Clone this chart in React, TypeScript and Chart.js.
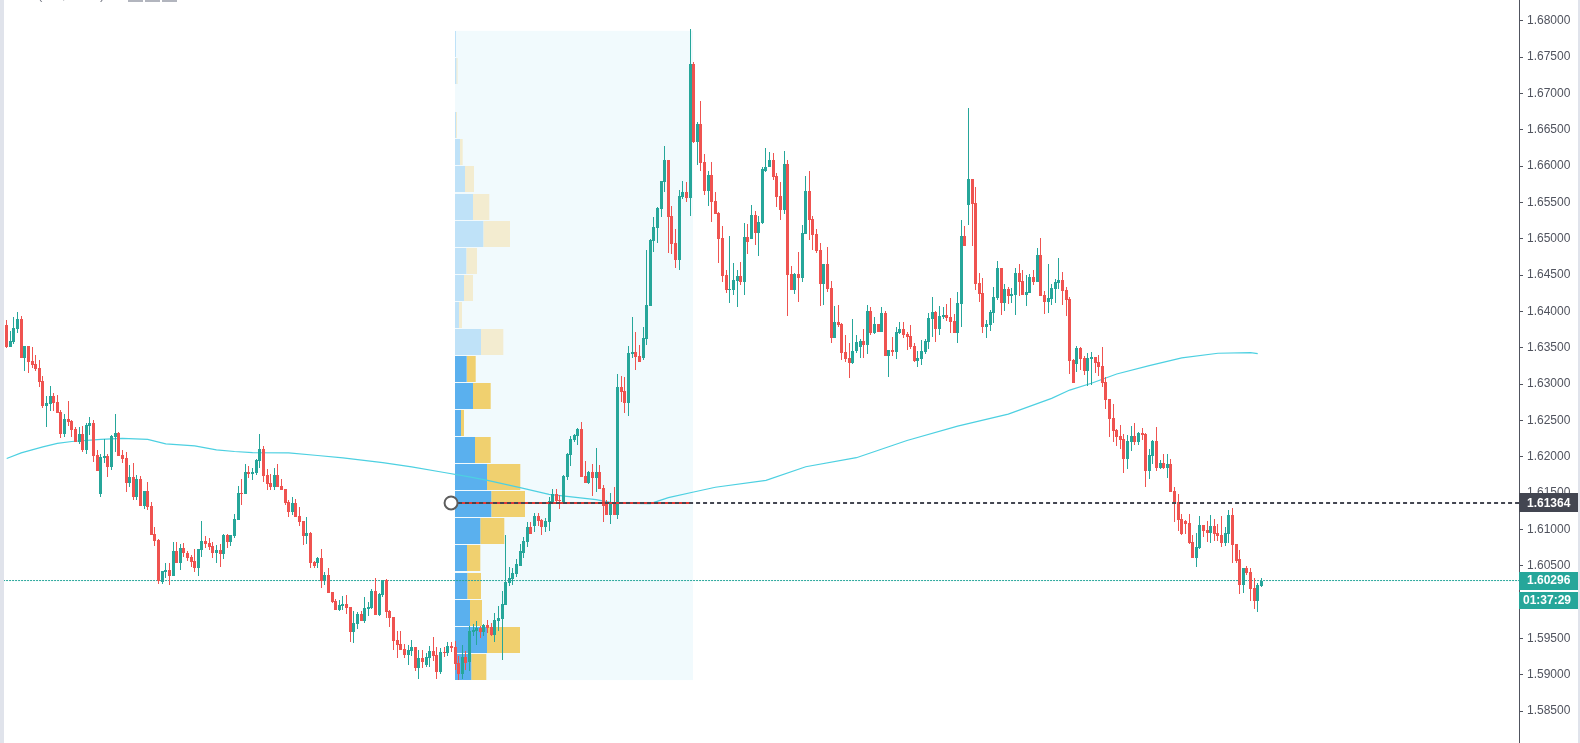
import { useEffect, useRef } from 'react';
import { Chart, registerables } from 'chart.js';

Chart.register(...registerables);

const highs = [1.63884,1.63732,1.63921,1.6399,1.63939,1.63525,1.63525,1.63511,1.63401,1.63332,1.63111,1.62835,1.62973,1.62877,1.62849,1.62642,1.62587,1.62766,1.62504,1.62407,1.62407,1.62421,1.62463,1.62545,1.62504,1.6209,1.62035,1.62242,1.62035,1.62297,1.62587,1.62338,1.6209,1.62062,1.61883,1.61911,1.61745,1.61731,1.61524,1.61648,1.61372,1.61027,1.60862,1.60434,1.60544,1.60544,1.6082,1.6082,1.60793,1.60807,1.60696,1.60641,1.60724,1.60724,1.6111,1.60903,1.60876,1.6082,1.60779,1.60793,1.60931,1.60931,1.60917,1.61207,1.61593,1.6169,1.61897,1.61869,1.61842,1.61966,
1.62311,1.62145,1.61828,1.61759,1.61842,1.61897,1.6169,1.61552,1.614,1.61441,1.61414,1.61303,1.6111,1.61165,1.60958,1.60572,1.60627,1.60724,1.6042,1.60475,1.60144,1.60048,1.60034,1.60089,1.60103,1.59937,1.59882,1.59868,1.59882,1.60075,1.60006,1.60186,1.60337,1.6013,1.6031,1.60324,1.59896,1.59799,1.59606,1.59606,1.59427,1.59413,1.59482,1.59385,1.59344,1.59344,1.59302,1.59399,1.59523,1.59385,1.59371,1.59385,1.59454,1.59454,1.59468,1.59261,1.59413,1.5933,
1.59675,1.59698,1.59744,1.59675,1.59703,1.59758,1.59716,1.59854,1.59951,1.60158,1.60917,1.60489,1.60462,1.60586,1.60793,1.60889,1.61096,1.61096,1.61221,1.61221,1.61138,1.61152,1.61441,1.61552,1.61552,1.61469,1.61745,1.62049,1.62283,1.62311,1.62394,1.62476,1.61938,1.618,1.61897,1.62118,1.61883,1.61607,1.614,1.61497,1.61579,1.63139,1.63111,1.63097,
1.63525,1.63925,1.63718,1.63539,1.63787,1.6485,1.65002,1.65305,1.65443,1.65802,1.66271,1.66078,1.65457,1.6514,1.65678,
1.65802,1.65788,1.67886,1.67431,1.66603,1.66892,1.66161,1.6594,1.66051,1.6565,1.65374,1.65181,1.64574,1.65043,1.64671,1.64574,1.64684,1.65223,1.65209,1.65471,1.65388,1.65319,1.65995,1.66244,1.66189,1.66175,1.65899,1.65788,1.66202,1.66078,1.64629,1.64533,1.64822,1.65195,1.65871,1.6594,1.65319,1.6514,1.64947,1.64657,1.64891,1.64422,1.64077,1.64091,1.63843,1.63677,1.63567,1.63898,1.63677,1.63622,1.6376,1.64091,1.64063,1.63925,1.63829,1.64063,1.64008,1.6347,1.63649,1.63787,1.63856,1.63856,1.63718,1.63815,1.63567,1.63456,1.63608,1.63622,1.63981,
1.64201,1.64008,1.64077,1.64063,1.64105,1.64188,1.63967,1.6427,1.65264,1.65181,1.66796,1.6583,1.65719,1.64533,1.64464,1.63884,1.64022,1.64339,1.64698,1.64602,1.64381,1.64339,1.64326,1.64602,1.64657,1.64574,1.64505,1.64519,1.64574,1.64878,1.65016,1.64284,1.64657,1.64381,1.6445,1.6474,1.64546,1.64339,1.64201,
1.63346,1.63525,1.63511,1.63387,1.63429,1.63442,1.63373,1.63401,1.63511,1.63097,1.62794,1.62725,1.6238,1.62435,1.62311,1.62297,1.62421,1.62463,1.62338,1.62394,1.62325,1.62104,1.62228,1.62407,1.61952,1.62035,1.62035,1.61966,1.61579,1.61483,1.61207,1.61124,1.61207,1.60917,1.60945,1.61179,1.61055,1.6111,1.61193,1.61138,1.61069,1.61179,1.61027,1.61262,1.6129,1.60793,1.6071,1.60475,1.60503,1.60475,1.60337,1.60268,1.60337];

const lows = [1.63498,1.63511,1.63553,1.637,1.6336,1.6318,1.63153,1.63222,1.6318,1.62959,1.6267,1.62407,1.62628,1.62628,1.62601,1.62256,1.62269,1.62421,1.62269,1.622,1.62173,1.62062,1.62035,1.62297,1.61924,1.618,1.61441,1.61911,1.61717,1.61814,1.62062,1.62007,1.61911,1.6151,1.61579,1.614,1.614,1.61317,1.61276,1.61262,1.60917,1.60765,1.60255,1.60255,1.60337,1.60241,1.60365,1.60544,1.60448,1.60627,1.60572,1.60489,1.6042,1.60365,1.60627,1.60738,1.6071,1.60613,1.60544,1.60489,1.60586,1.60738,1.60765,1.60876,1.61124,1.61331,1.61483,1.61704,1.61676,1.61745,
1.61842,1.61648,1.61538,1.61538,1.61538,1.61579,1.61538,1.61331,1.61165,1.61193,1.61165,1.61041,1.60779,1.60793,1.60475,1.60475,1.60475,1.60199,1.60241,1.6013,1.59992,1.59896,1.59882,1.59896,1.59841,1.59454,1.5944,1.59634,1.59744,1.59716,1.59813,1.5991,1.59827,1.59813,1.60075,1.59785,1.59661,1.59344,1.59233,1.59344,1.59233,1.59137,1.59261,1.59054,1.58944,1.59095,1.59109,1.59109,1.59192,1.58944,1.59013,1.59247,1.59261,1.59316,1.59068,1.5893,1.58944,1.59068,
1.59054,1.59537,1.59413,1.59509,1.59537,1.59578,1.59537,1.59454,1.59606,1.59206,1.59965,1.60227,1.60241,1.60351,1.60503,1.60613,1.60751,1.60931,1.60958,1.61041,1.60917,1.60958,1.60972,1.61354,1.61345,1.61276,1.61345,1.61676,1.61869,1.622,1.62159,1.61717,1.61635,1.61621,1.61455,1.6151,1.61552,1.61096,1.61193,1.61069,1.61193,1.61138,1.62752,1.62601,
1.62559,1.6336,1.63194,1.63304,1.63332,1.63539,1.64077,1.64822,1.64947,1.65305,1.6565,1.64809,1.64795,1.64602,1.64574,
1.65554,1.65512,1.65319,1.66313,1.66009,1.6594,1.65609,1.65457,1.65236,1.65347,1.64671,1.64408,1.64257,1.64119,1.64229,1.64063,1.64367,1.64229,1.64795,1.65002,1.64919,1.64767,1.65209,1.65913,1.65982,1.65816,1.65443,1.65264,1.65347,1.63939,1.64298,1.64243,1.64132,1.64408,1.65071,1.64988,1.6485,1.64809,1.64077,1.64091,1.6427,1.63567,1.63636,1.63787,1.63332,1.63304,1.63084,1.63277,1.63429,1.6336,1.6336,1.63415,1.63677,1.63691,1.63718,1.63718,1.63387,1.63097,1.63387,1.63346,1.63691,1.63636,1.6347,1.63484,1.63304,1.63235,1.63263,1.63415,1.63484,
1.63649,1.6358,1.63677,1.63898,1.6387,1.63705,1.63705,1.63567,1.63787,1.64905,1.65195,1.64905,1.64298,1.64132,1.63705,1.63636,1.63732,1.63843,1.6416,1.63953,1.64008,1.64105,1.64119,1.63953,1.64215,1.64229,1.64077,1.64257,1.64367,1.64408,1.64215,1.63967,1.63981,1.64091,1.64119,1.64312,1.64091,1.63939,1.63139,
1.63015,1.63166,1.63194,1.63125,1.62973,1.62987,1.63153,1.63111,1.62959,1.62656,1.62269,1.622,1.62145,1.62104,1.61773,1.61828,1.62076,1.62159,1.62159,1.62228,1.61579,1.6169,1.61897,1.618,1.61828,1.61828,1.61704,1.6151,1.61096,1.60972,1.60917,1.60931,1.60793,1.60613,1.60489,1.60724,1.60889,1.6082,1.60807,1.60834,1.60834,1.60751,1.60765,1.60807,1.60531,1.60544,1.60117,1.6013,1.60379,1.6002,1.5991,1.59868,1.60213];

const opens = [1.63815,1.63511,1.6358,1.6376,1.63898,1.6336,1.63525,1.63318,1.63277,1.63222,1.63042,1.62697,1.62725,1.62835,1.62752,1.62614,1.62311,1.62518,1.6249,1.6238,1.622,1.62311,1.6209,1.62421,1.62463,1.62021,1.61483,1.6198,1.62007,1.61855,1.62269,1.62325,1.62021,1.6198,1.61635,1.61717,1.61441,1.6169,1.61317,1.61524,1.61317,1.60931,1.60848,1.60282,1.6042,1.60448,1.60365,1.60696,1.60544,1.60738,1.60682,1.60627,1.60572,1.60462,1.6071,1.60834,1.60807,1.60765,1.60682,1.6071,1.60655,1.60917,1.6082,1.60903,1.61124,1.61497,1.61483,1.61786,1.61759,1.61773,
1.61938,1.62104,1.61745,1.61635,1.61579,1.61745,1.61593,1.61552,1.61372,1.61234,1.61359,1.61179,1.6111,1.60903,1.60945,1.60558,1.60544,1.60613,1.60296,1.60379,1.60144,1.6002,1.59896,1.59951,1.59979,1.59937,1.59592,1.59703,1.59841,1.59744,1.5991,1.59923,1.60158,1.59827,1.60103,1.6031,1.59882,1.59799,1.59482,1.59427,1.59358,1.59275,1.5933,1.59385,1.59095,1.59233,1.59137,1.59233,1.5933,1.59275,1.5904,1.59316,1.59302,1.59399,1.59385,1.59164,1.59013,1.59247,
1.59169,1.59592,1.59606,1.59647,1.59592,1.59689,1.59661,1.59551,1.59744,1.59772,1.59965,1.60268,1.60324,1.60393,1.60503,1.60682,1.6082,1.61027,1.61041,1.61179,1.61124,1.61027,1.61096,1.61372,1.61483,1.614,1.61345,1.61717,1.62021,1.62228,1.62283,1.6238,1.61731,1.61635,1.61786,1.61704,1.61786,1.61566,1.61359,1.61193,1.61359,1.61193,1.62959,1.62904,
1.62739,1.63415,1.63442,1.63387,1.6336,1.63622,1.64077,1.64974,1.65154,1.65416,1.65788,1.66078,1.65319,1.64947,1.64712,
1.65581,1.6565,1.65568,1.67403,1.66327,1.66575,1.66051,1.65664,1.65885,1.65526,1.65361,1.65016,1.64505,1.64298,1.64298,1.64422,1.64491,1.64408,1.65029,1.65002,1.65333,1.65085,1.65223,1.6594,1.65982,1.66078,1.65871,1.65595,1.65402,1.66023,1.64519,1.64298,1.64519,1.64464,1.65071,1.65664,1.65278,1.65071,1.6485,1.64381,1.64657,1.64326,1.63636,1.63856,1.63829,1.63442,1.6336,1.63291,1.63456,1.63511,1.63594,1.63539,1.64008,1.63705,1.63829,1.63718,1.63981,1.63387,1.6347,1.63442,1.63705,1.6376,1.63691,1.63663,1.63525,1.63318,1.63346,1.63442,1.6358,
1.63898,1.63994,1.6376,1.63925,1.63953,1.63925,1.6387,1.63705,1.64105,1.65043,1.65471,1.6583,1.65499,1.64395,1.64257,1.63787,1.63815,1.63981,1.64188,1.64602,1.64119,1.64312,1.64215,1.64229,1.64533,1.64422,1.64229,1.64257,1.64477,1.64408,1.64781,1.64229,1.64132,1.64174,1.64312,1.64395,1.64436,1.64298,1.64174,
1.63332,1.63277,1.63498,1.6336,1.6318,1.63346,1.63373,1.63304,1.63249,1.63028,1.62794,1.62532,1.62366,1.62283,1.62242,1.61966,1.622,1.62283,1.622,1.62325,1.62311,1.618,1.62007,1.62214,1.61842,1.61911,1.61842,1.61897,1.61524,1.61372,1.61138,1.6111,1.61083,1.6082,1.60613,1.60738,1.61055,1.60986,1.60945,1.61041,1.60945,1.60917,1.60807,1.60931,1.61193,1.60793,1.60586,1.60241,1.60462,1.6042,1.60199,1.6002,1.60227];

const closes = [1.63511,1.63594,1.63774,1.63898,1.6336,1.63525,1.63304,1.63263,1.63208,1.63028,1.62697,1.62739,1.62835,1.62739,1.62601,1.62311,1.62518,1.62476,1.62366,1.622,1.62311,1.6209,1.62435,1.62463,1.62007,1.618,1.61993,1.62007,1.61855,1.62283,1.62325,1.62007,1.61966,1.61635,1.61717,1.61441,1.6169,1.61317,1.61524,1.61303,1.60917,1.60834,1.60296,1.60434,1.60448,1.60365,1.60696,1.60544,1.60738,1.60669,1.60613,1.60558,1.60462,1.60724,1.60834,1.60793,1.60751,1.60682,1.6071,1.60655,1.60917,1.6082,1.60917,1.61138,1.61497,1.61483,1.61786,1.61759,1.61786,1.61952,
1.62104,1.61731,1.61621,1.61579,1.61745,1.61579,1.61538,1.61359,1.61234,1.61359,1.61165,1.61096,1.60903,1.60945,1.60544,1.60503,1.60613,1.60296,1.60379,1.6013,1.60006,1.59896,1.59965,1.59979,1.59923,1.59592,1.59716,1.59841,1.59744,1.59923,1.59937,1.60158,1.59827,1.60117,1.6031,1.59868,1.59785,1.59468,1.59413,1.59344,1.59275,1.59344,1.59385,1.59095,1.59233,1.59178,1.59247,1.5933,1.59261,1.5904,1.59316,1.59302,1.59399,1.59371,1.59151,1.59013,1.59247,1.59164,
1.59606,1.5962,1.59647,1.59592,1.59689,1.59647,1.59551,1.59758,1.59785,1.59979,1.60282,1.60337,1.60406,1.60517,1.60696,1.60834,1.61027,1.60931,1.61179,1.6111,1.61027,1.6111,1.61386,1.61483,1.61386,1.61386,1.61731,1.62035,1.62242,1.62297,1.6238,1.61717,1.61635,1.61786,1.61704,1.61786,1.61552,1.61317,1.61193,1.61359,1.61193,1.62959,1.6289,1.62739,
1.63429,1.63442,1.63373,1.63304,1.63636,1.64091,1.64988,1.65167,1.6543,1.65802,1.66078,1.65305,1.64933,1.64712,1.65595,
1.6565,1.65568,1.67403,1.66327,1.66575,1.66037,1.65664,1.65885,1.65512,1.65347,1.65002,1.64491,1.64298,1.64312,1.64436,1.64491,1.64408,1.65029,1.6496,1.65333,1.65085,1.65236,1.65954,1.65995,1.66078,1.65857,1.65581,1.65402,1.66023,1.64505,1.64298,1.64519,1.64464,1.65085,1.65664,1.65264,1.65057,1.64836,1.64381,1.64657,1.64312,1.63636,1.63856,1.63815,1.63429,1.63346,1.63291,1.63456,1.6358,1.63594,1.63539,1.64008,1.63705,1.63829,1.63718,1.63981,1.63387,1.6347,1.63442,1.63718,1.6376,1.63677,1.63649,1.63511,1.63318,1.6336,1.63456,1.63594,1.63912,
1.63994,1.6376,1.63939,1.63953,1.63912,1.63856,1.63705,1.64119,1.65043,1.64905,1.6583,1.65485,1.64381,1.64243,1.63787,1.63829,1.63994,1.64201,1.64602,1.64119,1.64312,1.64215,1.64243,1.64533,1.64408,1.64229,1.6427,1.64477,1.64408,1.64781,1.64215,1.64132,1.64188,1.64326,1.64408,1.64436,1.64284,1.64160,1.63318,
1.63015,1.63498,1.63346,1.6318,1.6336,1.63373,1.63291,1.63235,1.63015,1.6278,1.62518,1.62352,1.62269,1.62228,1.61966,1.62214,1.62283,1.622,1.62325,1.62297,1.618,1.62021,1.62214,1.61842,1.61911,1.61842,1.61897,1.6151,1.61359,1.61124,1.60931,1.61069,1.60807,1.60613,1.60751,1.61055,1.60972,1.60945,1.61041,1.60931,1.60903,1.60807,1.60945,1.61193,1.60779,1.60572,1.60241,1.60462,1.60406,1.60186,1.6002,1.60241,1.60296];

// slow moving average, sampled along the line
const emaBars = [0,4,10,14,18,26,32,39,44,52,58,63,68,78,86,93,104,112,121,128,133,142,150,163,168,178,183,190,196,210,221,235,249,263,277,289,294,300,307,316,325,335,344,346];
const emaValues = [1.61976,1.62053,1.62136,1.62183,1.6221,1.62238,1.62252,1.62238,1.62177,1.6215,1.62094,1.62072,1.62058,1.62053,1.62017,1.61984,1.6192,1.6186,1.61783,1.61722,1.61676,1.61576,1.61483,1.6141,1.61363,1.61355,1.61437,1.61515,1.6158,1.61676,1.61863,1.61987,1.62224,1.62422,1.62587,1.62804,1.62918,1.63011,1.63139,1.63254,1.6336,1.63425,1.63433,1.63419];

// volume profile rows, top to bottom
const profilePrices = [1.6768,1.67307,1.66934,1.66562,1.66189,1.65817,1.65444,1.65071,1.64699,1.64326,1.63953,1.63581,1.63208,1.62836,1.62463,1.6209,1.61718,1.61345,1.60972,1.606,1.60227,1.59855,1.59482,1.59109];
const profileUp = [1,1.3,0,1,5,10,18,28.3,11.3,9,4,26,11.7,18,6,20,32,36.3,25.3,12,12.3,15,32,16.3];
const profileDown = [0,1.3,0,1,2.7,9,16.3,26.7,10.7,9,3,22.3,9,17.7,3,15.7,33.3,33.7,24,13.3,13.7,12,33,15];

const pocPrice = 1.61364;
const lastPrice = 1.60296;
const countdown = '01:37:29';
const rangeBars = [124, 189.8];
const rangePrices = [1.58926, 1.67863];
const anchorBar = 122.9;

const UP = '#26a69a';
const DOWN = '#ef5350';

const snapBars = {
  id: 'snapBars',
  afterDatasetsUpdate(chart: any) {
    chart.data.datasets.forEach((ds: any, i: number) => {
      const els = chart.getDatasetMeta(i).data;
      if (ds.snap === 'candle') {
        els.forEach((el: any) => {
          el.x = Math.floor(el.x) + 0.5;
          el.y = Math.round(el.y);
          el.base = Math.round(el.base);
          if (el.base === el.y) el.base = el.y + 1;
        });
      } else if (ds.snap === 'row') {
        els.forEach((el: any) => { el.y = Math.round(el.y); });
      }
    });
  },
};

const decorations = {
  id: 'decorations',
  beforeDatasetsDraw(chart: any) {
    const { ctx, scales } = chart;
    ctx.save();
    ctx.fillStyle = '#f1fafd';
    const left = scales.x.getPixelForValue(rangeBars[0]);
    const right = scales.x.getPixelForValue(rangeBars[1]);
    const top = scales.y.getPixelForValue(rangePrices[1]);
    const bottom = scales.y.getPixelForValue(rangePrices[0]);
    ctx.fillRect(left, top, right - left, bottom - top);
    ctx.restore();
  },
  afterDraw(chart: any) {
    const { ctx, scales, width, height } = chart;
    ctx.save();
    // anchor of the profile tool
    const pocY = scales.y.getPixelForValue(pocPrice);
    const lastY = scales.y.getPixelForValue(lastPrice);
    ctx.beginPath();
    ctx.arc(scales.x.getPixelForValue(anchorBar), pocY, 6.5, 0, Math.PI * 2);
    ctx.fillStyle = '#ffffff';
    ctx.fill();
    ctx.lineWidth = 2;
    ctx.strokeStyle = '#5d5d5d';
    ctx.stroke();
    // window edges
    ctx.fillStyle = '#e0e3eb';
    ctx.fillRect(0, 0, 4, height);
    ctx.fillRect(width - 2, 0, 2, height);
    // clipped legend line at the very top
    ctx.fillStyle = '#b2b5be';
    [128, 145, 162].forEach((x) => ctx.fillRect(x, 0, 15, 2));
    ctx.fillStyle = '#787b86';
    ctx.font = '13px "Liberation Sans"';
    ctx.textBaseline = 'alphabetic';
    ctx.fillText('(', 38, -1);
    ctx.fillText(',', 62, -1);
    ctx.fillText(')', 100, -1);
    // price labels on the axis
    const axisX = chart.chartArea.right;
    const boxW = width - 2 - axisX;
    const label = (text: string, cy: number, h: number, color: string, tx: number) => {
      ctx.fillStyle = color;
      ctx.fillRect(axisX, Math.round(cy - h / 2), boxW, h);
      ctx.fillStyle = '#ffffff';
      ctx.font = 'bold 12px "Liberation Sans"';
      ctx.textBaseline = 'middle';
      ctx.textAlign = 'left';
      ctx.fillText(text, tx, cy + 0.5);
    };
    label(pocPrice.toFixed(5), pocY, 19, '#434651', axisX + 8);
    label(lastPrice.toFixed(5), lastY, 18, UP, axisX + 8);
    label(countdown, lastY + 19.5, 17, UP, axisX + 4);
    ctx.restore();
  },
};

export default function App() {
  const canvasRef = useRef<HTMLCanvasElement>(null);

  useEffect(() => {
    if (!canvasRef.current) return;
    const ctx = canvasRef.current.getContext('2d');
    if (!ctx) return;

    const isUp = opens.map((o, i) => closes[i] >= o);
    const candleColors = isUp.map((u) => (u ? UP : DOWN));
    const bars = highs.map((_, i) => i);
    const solid = profilePrices.map((_, i) => i >= 12);

    const chart = new Chart(ctx, {
      type: 'bar',
      data: {
        datasets: [
          {
            label: 'up volume',
            indexAxis: 'y',
            xAxisID: 'vol',
            yAxisID: 'y',
            data: profilePrices.map((p, i) => ({ x: [0, profileUp[i]], y: p })),
            backgroundColor: solid.map((s) => (s ? '#5ab0ee' : '#bfe2f8')),
            barThickness: 26,
            grouped: false,
            inflateAmount: 0,
            order: 6,
            snap: 'row',
          },
          {
            label: 'down volume',
            indexAxis: 'y',
            xAxisID: 'vol',
            yAxisID: 'y',
            data: profilePrices.map((p, i) => ({ x: [profileUp[i], profileUp[i] + profileDown[i]], y: p })),
            backgroundColor: solid.map((s) => (s ? '#f0d06f' : '#f3ecd0')),
            barThickness: 26,
            grouped: false,
            inflateAmount: 0,
            order: 6,
            snap: 'row',
          },
          {
            type: 'line',
            label: 'ema',
            data: emaBars.map((b, i) => ({ x: b, y: emaValues[i] })),
            borderColor: '#4dd0e1',
            borderWidth: 1.2,
            pointRadius: 0,
            order: 5,
          },
          {
            type: 'line',
            label: 'last price',
            data: [{ x: -1, y: lastPrice }, { x: 419, y: lastPrice }],
            borderColor: UP,
            borderWidth: 1,
            borderDash: [2, 1],
            pointRadius: 0,
            order: 4,
          },
          {
            label: 'wicks',
            data: bars.map((b) => ({ x: b, y: [lows[b], highs[b]] })),
            backgroundColor: candleColors,
            barThickness: 1,
            grouped: false,
            inflateAmount: 0,
            order: 3,
            snap: 'candle',
          },
          {
            label: 'bodies',
            data: bars.map((b) => ({ x: b, y: [Math.min(opens[b], closes[b]), Math.max(opens[b], closes[b])] })),
            backgroundColor: candleColors,
            barThickness: 3,
            grouped: false,
            inflateAmount: 0,
            order: 2,
            snap: 'candle',
          },
          {
            type: 'line',
            label: 'poc',
            data: [{ x: rangeBars[0], y: pocPrice }, { x: rangeBars[1], y: pocPrice }],
            borderColor: '#e53935',
            borderWidth: 2,
            pointRadius: 0,
            order: 1,
          },
          {
            type: 'line',
            label: 'ray',
            data: [{ x: anchorBar, y: pocPrice }, { x: 419, y: pocPrice }],
            borderColor: '#434651',
            borderWidth: 2,
            borderDash: [4, 3],
            pointRadius: 0,
            order: 0,
          },
        ] as any,
      },
      options: {
        responsive: false,
        animation: false,
        layout: { autoPadding: false, padding: { left: 4, right: 0, top: 0, bottom: 0 } },
        plugins: { legend: { display: false }, tooltip: { enabled: false } },
        scales: {
          x: { type: 'linear', display: false, offset: false, min: -0.7468, max: 418.26 },
          vol: { type: 'linear', axis: 'x', display: false, offset: false, min: -451, max: 1064 },
          y: {
            type: 'linear',
            position: 'right',
            offset: false,
            min: 1.5806,
            max: 1.68287,
            afterFit(scale: any) {
              scale.width = 61;
              // tick labels must not shrink the plot vertically
              scale.paddingTop = 0;
              scale.paddingBottom = 0;
            },
            border: { color: '#50535e', width: 1 },
            grid: { offset: false, drawOnChartArea: false, tickColor: '#50535e', tickLength: 4 },
            ticks: {
              stepSize: 0.005,
              includeBounds: false,
              autoSkip: false,
              padding: 4,
              color: '#50535e',
              font: { family: '"Liberation Sans"', size: 12 },
              callback: (v: any) => Number(v).toFixed(5),
            },
          },
        },
      } as any,
      plugins: [snapBars, decorations],
    });

    return () => chart.destroy();
  }, []);

  return (
    <div style={{ position: 'absolute', left: 0, top: 0, width: 1580, height: 743, background: '#fff' }}>
      <canvas ref={canvasRef} width={1580} height={743} />
    </div>
  );
}
